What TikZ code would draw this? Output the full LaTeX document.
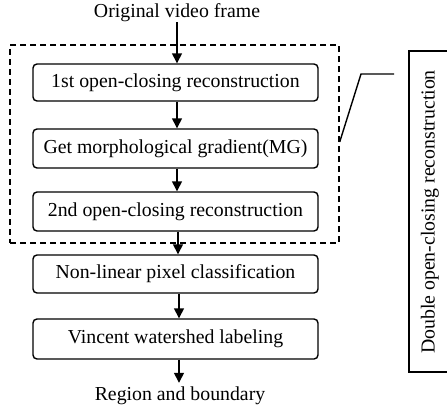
\documentclass[tikz,border=0pt]{standalone}
\usepackage{fontspec}
\setmainfont{Liberation Serif}
\usetikzlibrary{arrows.meta}
\begin{document}
\begin{tikzpicture}[x=1pt,y=-1pt,
  stepbox/.style={draw,line width=1.4pt,rounded corners=4pt,minimum width=285pt,inner sep=0pt,font=\fontsize{19.8}{22}\selectfont},
  lbl/.style={inner sep=0pt,font=\fontsize{19.8}{22}\selectfont},
  flow/.style={line width=1.4pt,-{Triangle[width=10pt,length=10pt]}},
  ]
\useasboundingbox (0,0) rectangle (447,410);
\node[lbl] (orig) at (177,13) {Original video frame};
\node[stepbox,minimum height=37pt] (b1) at (175.5,82.5) {1st open-closing reconstruction};
\node[stepbox,minimum height=39pt] (b2) at (175.5,148.5) {Get morphological gradient(MG)};
\node[stepbox,minimum height=39pt] (b3) at (175.5,211.5) {2nd open-closing reconstruction};
\node[stepbox,minimum height=38pt] (b4) at (175.5,274) {Non-linear pixel classification};
\node[stepbox,minimum height=40pt] (b5) at (175.5,339) {Vincent watershed labeling};
\node[lbl] (reg) at (180,396) {Region and boundary};
\node[draw,line width=1.4pt,dash pattern=on 6pt off 4pt,minimum width=329pt,minimum height=198pt,inner sep=0pt] (dbox) at (174.5,144) {};
\node[draw,line width=1.4pt,minimum width=90pt,minimum height=321pt,inner sep=0pt] (rbox) at (454,211.5) {};
\node[lbl,rotate=90] (rtext) at (430,212) {Double open-closing reconstruction};
\draw[flow] (orig.south -| 177,0) -- (b1.north -| 177,0);
\draw[flow] (b1.south -| 177,0) -- (b2.north -| 177,0);
\draw[flow] (b2.south -| 177,0) -- (b3.north -| 177,0);
\draw[flow] (b3.south -| 178,0) -- (b4.north -| 178,0);
\draw[flow] (b4.south -| 179,0) -- (b5.north -| 179,0);
\draw[flow,shorten >=4pt] (b5.south -| 179,0) -- (reg.north -| 179,0);
\coordinate (c1) at (dbox.east |- 0,142);
\coordinate (c2) at (361,74);
\coordinate (c3) at (394,74);
\draw[line width=1.4pt] (c1) -- (c2) -- (c3);
\end{tikzpicture}
\end{document}
